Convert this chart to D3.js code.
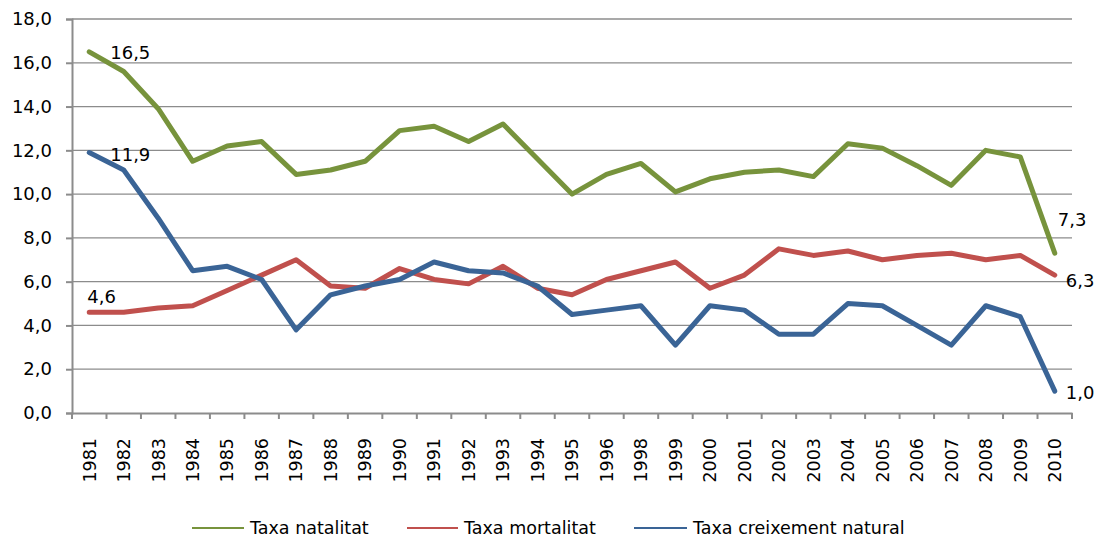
<!DOCTYPE html>
<html lang="ca">
<head>
<meta charset="UTF-8">
<title>Taxes natalitat, mortalitat i creixement natural</title>
<script src="https://cdn.jsdelivr.net/npm/d3@7"></script>
<style>
body{margin:0;background:#fff;}
svg text{font-family:"DejaVu Sans",sans-serif;fill:#000;}
.grid line{stroke:#8c8c8c;stroke-width:1.3px;}
.axis path,.axis line{stroke:#8c8c8c;stroke-width:2px;}
.serie{fill:none;stroke-width:5px;stroke-linejoin:round;stroke-linecap:round;}
</style>
</head>
<body>
<script>
var anys = ["1981","1982","1983","1984","1985","1986","1987","1988","1989","1990","1991","1992","1993","1994","1995","1996","1998","1999","2000","2001","2002","2003","2004","2005","2006","2007","2008","2009","2010"];
var natalitat = [16.5,15.6,13.9,11.5,12.2,12.4,10.9,11.1,11.5,12.9,13.1,12.4,13.2,11.6,10.0,10.9,11.4,10.1,10.7,11.0,11.1,10.8,12.3,12.1,11.3,10.4,12.0,11.7,7.3];
var mortalitat = [4.6,4.6,4.8,4.9,5.6,6.3,7.0,5.8,5.7,6.6,6.1,5.9,6.7,5.7,5.4,6.1,6.5,6.9,5.7,6.3,7.5,7.2,7.4,7.0,7.2,7.3,7.0,7.2,6.3];
var creixement = [11.9,11.1,8.9,6.5,6.7,6.1,3.8,5.4,5.8,6.1,6.9,6.5,6.4,5.8,4.5,4.7,4.9,3.1,4.9,4.7,3.6,3.6,5.0,4.9,4.0,3.1,4.9,4.4,1.0];
var yTicks = [0,2,4,6,8,10,12,14,16,18];

var series = [
  {nom:"Taxa natalitat", vals:natalitat, color:"#77933c"},
  {nom:"Taxa mortalitat", vals:mortalitat, color:"#c0504d"},
  {nom:"Taxa creixement natural", vals:creixement, color:"#3a6496"}
];

var W = 1097, H = 538;
var m = {left:72, right:25, top:19, bottom:125};
var fmt = function(v){ return d3.format(".1f")(v).replace(".", ","); };

var svg = d3.select("body").append("svg").attr("width", W).attr("height", H);

var x = d3.scaleBand().domain(anys).range([m.left, W - m.right]);
var y = d3.scaleLinear().domain([0,18]).range([H - m.bottom, m.top]);
var cx = function(i){ return x(anys[i]) + x.bandwidth()/2; };

// graella
svg.append("g").attr("class","grid").selectAll("line").data(yTicks.slice(1)).enter().append("line")
  .attr("x1", m.left).attr("x2", W - m.right)
  .attr("y1", function(d){ return y(d); }).attr("y2", function(d){ return y(d); });

// eix Y
var ay = svg.append("g").attr("class","axis").attr("transform","translate(" + m.left + ",0)")
  .call(d3.axisLeft(y).tickValues(yTicks).tickFormat(fmt).tickSize(6).tickPadding(14));
ay.selectAll("text").style("font-size","18px");

// eix X amb marques als límits
var ax = svg.append("g").attr("class","axis").attr("transform","translate(0," + y(0) + ")")
  .call(d3.axisBottom(x).tickSize(0).tickPadding(0));
ax.selectAll(".tick text").attr("transform","rotate(-90)").attr("text-anchor","end")
  .attr("x", -25).attr("y", 0).attr("dy","0.36em").style("font-size","17.5px");
ax.selectAll(".bnd").data(anys.concat([null])).enter().append("line").attr("class","bnd")
  .attr("x1", function(d,i){ return m.left + i * x.bandwidth(); })
  .attr("x2", function(d,i){ return m.left + i * x.bandwidth(); })
  .attr("y1", 0).attr("y2", 6);

// línies
var line = d3.line().x(function(d,i){ return cx(i); }).y(function(d){ return y(d); });
svg.selectAll(".serie").data(series).enter().append("path").attr("class","serie")
  .attr("stroke", function(d){ return d.color; })
  .attr("d", function(d){ return line(d.vals); });

// etiquetes de dades
var n = anys.length - 1;
var etiq = [
  {v:natalitat[0], i:0, dx:21, dy:1},
  {v:creixement[0], i:0, dx:21, dy:2},
  {v:mortalitat[0], i:0, dx:-2, dy:-16},
  {v:natalitat[n], i:n, dx:3, dy:-34},
  {v:mortalitat[n], i:n, dx:11, dy:6},
  {v:creixement[n], i:n, dx:11, dy:2}
];
svg.selectAll(".etq").data(etiq).enter().append("text").attr("class","etq")
  .attr("x", function(d){ return cx(d.i) + d.dx; })
  .attr("y", function(d){ return y(d.v) + d.dy; })
  .attr("dy","0.35em").style("font-size","18px")
  .text(function(d){ return fmt(d.v); });

// llegenda
var leg = [{x:192, w:52}, {x:407, w:51}, {x:634, w:53}];
var lg = svg.selectAll(".leg").data(series).enter().append("g").attr("class","leg")
  .attr("transform", function(d,i){ return "translate(" + leg[i].x + ",528)"; });
lg.append("line").attr("x1",0).attr("x2", function(d,i){ return leg[i].w; })
  .attr("stroke", function(d){ return d.color; }).attr("stroke-width", 2);
lg.append("text").attr("x", function(d,i){ return leg[i].w + 6; }).attr("dy","0.35em")
  .style("font-size","17.5px").text(function(d){ return d.nom; });
</script>
</body>
</html>
